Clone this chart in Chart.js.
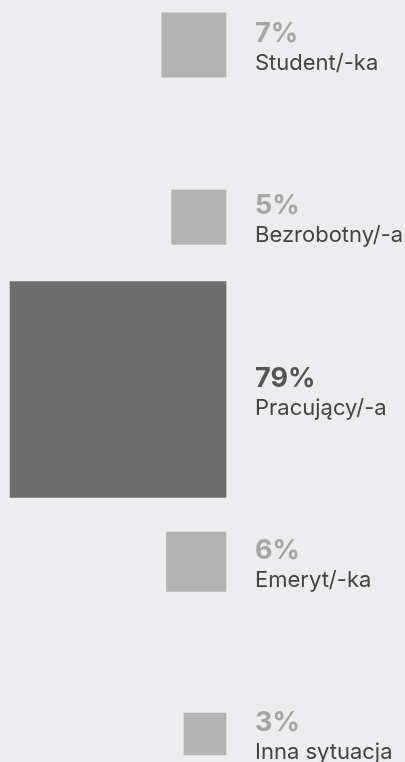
<!DOCTYPE html>
<html lang="pl">
<head>
<meta charset="utf-8">
<title>Status zawodowy</title>
<script src="https://cdn.jsdelivr.net/npm/chart.js@4.4.1/dist/chart.umd.min.js"></script>
<style>
  html, body { margin: 0; padding: 0; background: #EDEDF0; }
  #wrap { position: relative; width: 405px; height: 762px; }
</style>
</head>
<body>
<div id="wrap"><canvas id="chart"></canvas></div>
<script>
// Occupational status shares (percent)
const categories = ['Student/-ka', 'Bezrobotny/-a', 'Pracujący/-a', 'Emeryt/-ka', 'Inna sytuacja'];
const shares = [7, 5, 79, 6, 3];
const valueLabels = ['7%', '5%', '79%', '6%', '3%'];

// Square area is proportional to the share: side = sqrt(share) * PX_PER_ROOT
const PX_PER_ROOT = 24.3;
const RIGHT_EDGE = 226;     // squares are right-aligned on this pixel column
const CANVAS_W = 405;
const highlightIndex = shares.indexOf(Math.max(...shares));

const side = v => Math.sqrt(v) * PX_PER_ROOT;

// One dataset per category so each square can carry its own thickness
const datasets = categories.map((cat, i) => ({
  label: cat,
  data: [{ y: cat, x: [-side(shares[i]), 0] }],
  backgroundColor: i === highlightIndex ? '#6E6E6E' : '#B3B3B3',
  barThickness: side(shares[i]),
  grouped: false,
  clip: false,
  borderWidth: 0
}));

// Two-line label beside each square: bold share, then category name
const sideLabels = {
  id: 'sideLabels',
  afterDatasetsDraw(chart) {
    const ctx = chart.ctx;
    ctx.save();
    ctx.textAlign = 'left';
    ctx.textBaseline = 'alphabetic';
    chart.data.datasets.forEach((ds, i) => {
      const bar = chart.getDatasetMeta(i).data[0];
      const x = Math.max(bar.x, bar.base) + 29;
      const y = bar.y;
      ctx.font = '700 27px Inter';
      ctx.fillStyle = i === highlightIndex ? '#555555' : '#A6A6A6';
      ctx.fillText(valueLabels[i], x, y - 3);
      ctx.font = '400 22px Inter';
      ctx.fillStyle = '#444444';
      ctx.fillText(categories[i], x, y + 25);
    });
    ctx.restore();
  }
};

new Chart(document.getElementById('chart'), {
  type: 'bar',
  data: { labels: categories, datasets },
  options: {
    indexAxis: 'y',
    responsive: true,
    maintainAspectRatio: false,
    animation: false,
    layout: { padding: { top: 45, bottom: 28, left: 0, right: 0 } },
    scales: {
      x: { type: 'linear', min: -RIGHT_EDGE, max: CANVAS_W - RIGHT_EDGE, display: false },
      y: { type: 'category', offset: false, display: false }
    },
    plugins: {
      legend: { display: false },
      tooltip: { enabled: false }
    }
  },
  plugins: [sideLabels]
});
</script>
</body>
</html>
